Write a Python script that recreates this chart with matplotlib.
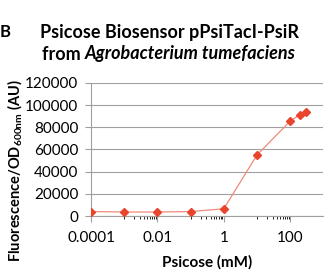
import matplotlib
matplotlib.use("Agg")
import matplotlib.pyplot as plt
from matplotlib.ticker import NullFormatter, FixedLocator

plt.rcParams['font.family'] = ['Lato', 'DejaVu Sans']

# data
psicose_mm = [0.0001, 0.001, 0.01, 0.1, 1, 10, 100, 200, 300]
fluorescence = [4000, 3600, 3600, 4000, 6500, 55000, 85500, 91500, 94000]
x_ticks = [0.0001, 0.01, 1, 100]
x_tick_labels = ['0.0001', '0.01', '1', '100']
x_minor = [d * k for d in [0.001, 0.1, 10] for k in range(1, 10)]
y_ticks = [0, 20000, 40000, 60000, 80000, 100000, 120000]

red = '#e8452c'

fig = plt.figure(figsize=(3.25, 2.7), dpi=100)
ax = fig.add_axes([0.28, 0.2, 0.715, 0.493])

ax.plot(psicose_mm, fluorescence, color='#f08a7a', lw=0.9, zorder=2)
ax.plot(psicose_mm, fluorescence, ls='none', marker='D', ms=3.8,
        color=red, zorder=3)

ax.set_xscale('log')
ax.set_xlim(0.0001, 1000)
ax.set_ylim(0, 120000)
ax.xaxis.set_major_locator(FixedLocator(x_ticks))
ax.set_xticklabels(x_tick_labels)
ax.xaxis.set_minor_locator(FixedLocator(x_minor))
ax.xaxis.set_minor_formatter(NullFormatter())
ax.set_yticks(y_ticks)
ax.set_yticklabels([str(v) for v in y_ticks])

ax.yaxis.grid(True, color='#a0a0a0', lw=0.8)
ax.set_axisbelow(True)
for side in ['top', 'right']:
    ax.spines[side].set_visible(False)
for side in ['left', 'bottom']:
    ax.spines[side].set_color('#a0a0a0')
    ax.spines[side].set_linewidth(0.8)

ax.tick_params(axis='both', labelsize=11, colors='#a0a0a0', labelcolor='black')
ax.tick_params(axis='x', which='major', length=4, direction='out', pad=7)
ax.tick_params(axis='x', which='minor', length=2.5, direction='out')
ax.tick_params(axis='y', length=4, direction='out', pad=5)

ax.set_xlabel('Psicose (mM)', fontsize=11, fontweight='bold', labelpad=7)
ax.set_ylabel('Fluorescence/OD$_{\\mathregular{600nm}}$ (AU)', fontsize=10.5,
              fontweight='bold', va='center')
ax.yaxis.set_label_coords(-0.327, 0.34)

# title, second line has an italic organism name
fig.text(0.52, 0.88, 'Psicose Biosensor pPsiTacI-PsiR', ha='center',
         va='center', fontsize=13, fontweight='bold')
t1 = fig.text(0, 0.8, 'from ', ha='left', va='center', fontsize=13,
              fontweight='bold')
t2 = fig.text(0, 0.8, 'Agrobacterium tumefaciens', ha='left', va='center',
              fontsize=13, fontweight='bold', style='italic')
renderer = fig.canvas.get_renderer()
w1 = t1.get_window_extent(renderer).width / fig.bbox.width
w2 = t2.get_window_extent(renderer).width / fig.bbox.width
start = 0.52 - (w1 + w2) / 2
t1.set_x(start)
t2.set_x(start + w1)

fig.text(0.0, 0.88, 'B', ha='left', va='center', fontsize=12, fontweight='bold')

fig.savefig('out.png', dpi=100)
